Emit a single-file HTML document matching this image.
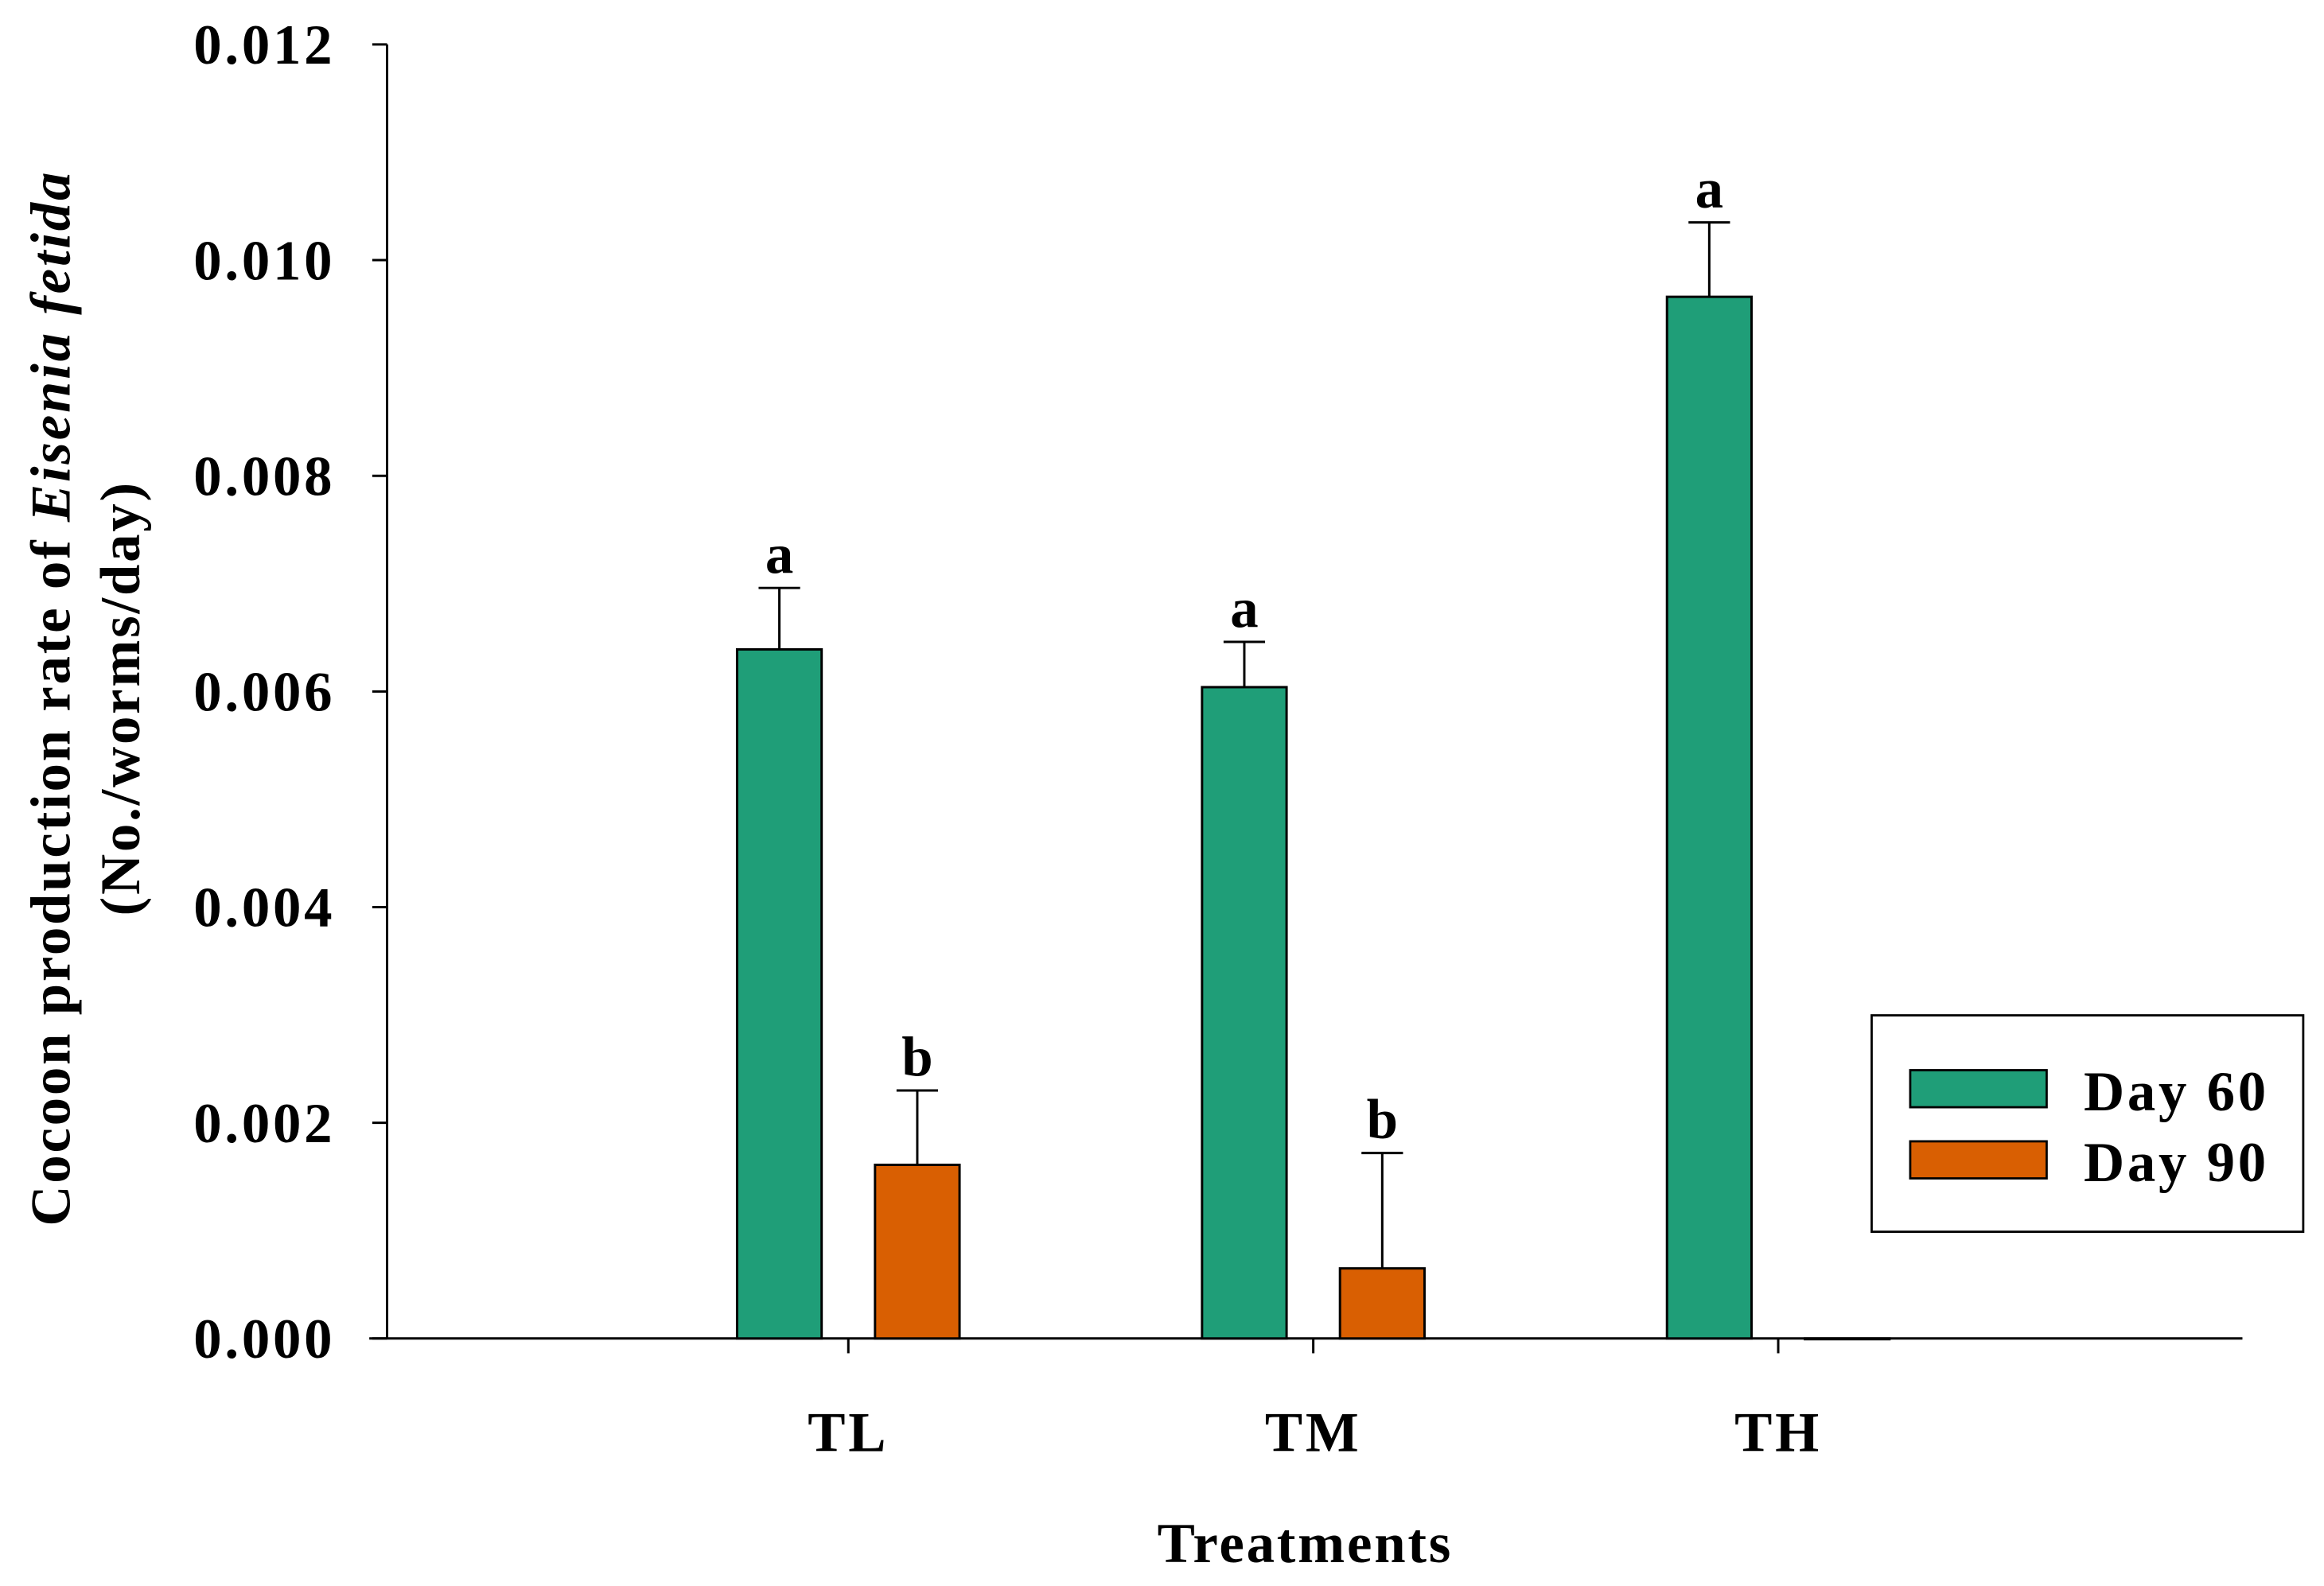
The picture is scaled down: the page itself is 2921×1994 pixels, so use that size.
<!DOCTYPE html>
<html><head><meta charset="utf-8"><style>
html,body{margin:0;padding:0;background:#fff;}
svg{display:block;}
text{font-family:"Liberation Serif",serif;font-weight:bold;fill:#000;}
</style></head><body>
<svg id="chart" width="2921" height="1994" viewBox="0 0 1567 1070" preserveAspectRatio="none" xmlns="http://www.w3.org/2000/svg">
<g id="axes"></g>
<g id="bars"></g>
<text x="880" y="1054" font-size="38" letter-spacing="1.5" text-anchor="middle">Treatments</text>
<text transform="translate(47,471) rotate(-90)" font-size="38" letter-spacing="1.5" text-anchor="middle">Cocoon production rate of <tspan font-style="italic">Eisenia fetida</tspan></text>
<text transform="translate(94,471) rotate(-90)" font-size="38" letter-spacing="1.5" text-anchor="middle">(No./worms/day)</text>
<g>
<rect x="1262" y="685" width="291" height="146" fill="#fff" stroke="#000" stroke-width="1.5"/>
<rect x="1288" y="722" width="92" height="25" fill="#1f9e78" stroke="#000" stroke-width="1.5"/>
<text x="1405" y="749" font-size="38" letter-spacing="2">Day 60</text>
<rect x="1288" y="770" width="92" height="25" fill="#d95f02" stroke="#000" stroke-width="1.5"/>
<text x="1405" y="797" font-size="38" letter-spacing="2">Day 90</text>
</g>
</svg>
<script>
const categories = ["TL","TM","TH"];
const day60 = [0.00639, 0.00604, 0.00966];
const day60Err = [0.00057, 0.00042, 0.00069];
const day90 = [0.00161, 0.00065, 0.0];
const day90Err = [0.00069, 0.00107, 0.0];
const letters60 = ["a","a","a"];
const letters90 = ["b","b",""];
const yTicks = [0, 0.002, 0.004, 0.006, 0.008, 0.010, 0.012];
const yTickLabels = ["0.000","0.002","0.004","0.006","0.008","0.010","0.012"];

const NS="http://www.w3.org/2000/svg";
const X0=261, X1=1512, Y0=903, Ytop=30, YMAX=0.012;
function yScale(v){return Y0-(v/YMAX)*(Y0-Ytop);}
function xCenter(i){return 572+i*313.5;}
function mk(tag,attrs,parent){const e=document.createElementNS(NS,tag);for(const k in attrs)e.setAttribute(k,attrs[k]);parent.appendChild(e);return e;}
const axes=document.getElementById('axes'), bars=document.getElementById('bars');

let l=mk('line',{x1:X0,y1:Ytop,x2:X0,y2:Y0,stroke:'#000','stroke-width':1.6},axes);


l=mk('line',{x1:X0-12,y1:Y0,x2:X1,y2:Y0,stroke:'#000','stroke-width':1.6},axes);


yTicks.forEach((v,i)=>{
  const y=yScale(v);
  const t=mk('line',{x1:X0-10,y1:y,x2:X0,y2:y,stroke:'#000','stroke-width':1.6},axes);
  
  
  const tx=mk('text',{x:226,y:y+13,'font-size':38,'letter-spacing':2,'text-anchor':'end'},axes);
  tx.textContent=yTickLabels[i];
  
  
});
categories.forEach((c,i)=>{
  const cx=xCenter(i);
  const t=mk('line',{x1:cx,y1:Y0,x2:cx,y2:Y0+10,stroke:'#000','stroke-width':1.6},axes);
  
  
  const tx=mk('text',{x:cx,y:979,'font-size':38,'letter-spacing':2,'text-anchor':'middle'},axes);
  tx.textContent=c;
  
  
  const series=[[day60,day60Err,letters60,'#1f9e78',-46.5,'day60'],[day90,day90Err,letters90,'#d95f02',46.5,'day90']];
  series.forEach(s=>{
    const v=s[0][i], e=s[1][i], bx=cx+s[4]-28.5;
    const yt=yScale(v);
    const r=mk('rect',{x:bx,y:yt,width:57,height:Math.max(Y0-yt,0.5),fill:s[3],stroke:'#000','stroke-width':1.6},bars);
    
    
    if(e>0){
      const ye=yScale(v+e), mx=bx+28.5;
      const el=mk('path',{d:`M${mx},${yt}V${ye}M${mx-14},${ye}H${mx+14}`,stroke:'#000','stroke-width':1.6,fill:'none'},bars);
      
      
      if(s[2][i]){
        const lt=mk('text',{x:mx,y:ye-10,'font-size':38,'text-anchor':'middle'},bars);
        lt.textContent=s[2][i];
        
        
      }
    }
  });
});
</script>
</body></html>
